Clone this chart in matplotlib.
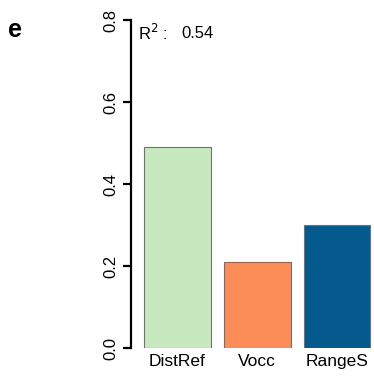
import matplotlib
matplotlib.use("Agg")
import matplotlib.pyplot as plt

categories = ["DistRef", "Vocc", "RangeS"]
values = [0.49, 0.21, 0.30]
colors = ["#c7e9c0", "#fc8d59", "#045a8d"]
yticks = [0.0, 0.2, 0.4, 0.6, 0.8]
r2_value = 0.54

plt.rcParams['font.family'] = ['Liberation Sans', 'DejaVu Sans']

W, H = 374, 380
fig = plt.figure(figsize=(W / 100, H / 100), dpi=100)
ax = fig.add_axes([131 / W, 1 - 348 / H, (374 - 131) / W, (348 - 20) / H])

lefts = [0.2 + i * 1.2 for i in range(len(categories))]
centers = [l + 0.5 for l in lefts]
ax.bar(centers, values, width=1.0, color=colors, edgecolor="#707070", linewidth=0.8)

ax.set_xlim(0, 3.654)
ax.set_ylim(0, 0.8)

for s in ["top", "right", "bottom"]:
    ax.spines[s].set_visible(False)
ax.spines["left"].set_linewidth(1.6)
ax.spines["left"].set_bounds(0, 0.8)

ax.set_yticks(yticks)
ax.set_yticklabels([f"{t:.1f}" for t in yticks], rotation=90, va="center", fontsize=12)
ax.tick_params(axis="y", length=6, width=1.6, pad=3)

ax.set_xticks(centers)
ax.set_xticklabels(categories, fontsize=12.5)
ax.tick_params(axis="x", length=0, pad=4)

ax.text(0.1, 0.768, "R$^2$ :", fontsize=12, ha="left", va="center", transform=ax.transData)
ax.text(0.75, 0.768, f"{r2_value:.2f}", fontsize=12, ha="left", va="center", transform=ax.transData)

fig.text(8 / W, 1 - 30 / H, "e", fontsize=18, fontweight="bold", ha="left", va="center")

fig.savefig("out.png", dpi=100)
